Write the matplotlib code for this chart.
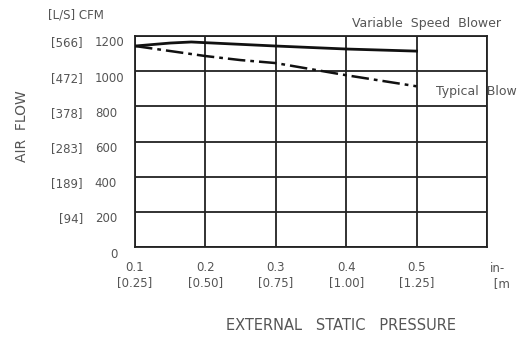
import matplotlib.pyplot as plt
import matplotlib.transforms as mtransforms

# data
pressure = [0.1, 0.15, 0.18, 0.2, 0.3, 0.4, 0.5]
variable_speed = [1143, 1160, 1166, 1162, 1143, 1126, 1114]
typical_p = [0.1, 0.2, 0.25, 0.3, 0.4, 0.5]
typical = [1143, 1086, 1063, 1046, 977, 914]

cfm_ticks = [0, 200, 400, 600, 800, 1000, 1200]
ls_labels = ["", "[94]", "[189]", "[283]", "[378]", "[472]", "[566]"]
x_ticks = [0.1, 0.2, 0.3, 0.4, 0.5]
x_labels = ["0.1\n[0.25]", "0.2\n[0.50]", "0.3\n[0.75]", "0.4\n[1.00]", "0.5\n[1.25]"]

txt = "#555555"
fs = 8.5

fig = plt.figure(figsize=(5.19, 3.37), dpi=100)
fig.patch.set_facecolor("white")

ax = fig.add_axes([135 / 519, 1 - 247 / 337, 352 / 519, 211 / 337])
ax.set_xlim(0.1, 0.6)
ax.set_ylim(0, 1200)

ax.plot(pressure, variable_speed, color="#111111", lw=2.0, zorder=3)
ax.plot(typical_p, typical, color="#111111", lw=1.8, ls=(0, (7, 2, 1.5, 2)), zorder=3)

ax.set_xticks(x_ticks + [0.6])
ax.set_yticks(cfm_ticks)
ax.grid(True, color="#222222", lw=1.3)
for s in ax.spines.values():
    s.set_color("#222222")
    s.set_linewidth(1.3)
ax.tick_params(length=0)
ax.set_xticklabels([])
ax.set_yticklabels([])

# y labels (two columns), slightly below their grid lines
trans = mtransforms.blended_transform_factory(ax.transAxes, ax.transData)
off = mtransforms.ScaledTranslation(0, -7 / 100, fig.dpi_scale_trans)
for v, ls in zip(cfm_ticks, ls_labels):
    if v == 0:
        ax.text(-0.06, v, "0", transform=trans + off, ha="center", va="center",
                fontsize=fs, color=txt)
    else:
        ax.text(-0.114, v, str(v), transform=trans + off, ha="left", va="center",
                fontsize=fs, color=txt)
        ax.text(-0.148, v, ls, transform=trans + off, ha="right", va="center",
                fontsize=fs, color=txt)

# x labels
transx = mtransforms.blended_transform_factory(ax.transData, ax.transAxes)
for v, lab in zip(x_ticks, x_labels):
    ax.text(v, -0.065, lab, transform=transx, ha="center", va="top",
            fontsize=fs, color=txt, linespacing=1.2)
fig.text(490 / 519, 1 - 262 / 337, "in-\n [m", ha="left", va="top",
         fontsize=fs, color=txt, linespacing=1.2)

fig.text(48 / 519, 1 - 15 / 337, "[L/S] CFM", ha="left", va="center",
         fontsize=fs, color=txt)
fig.text(22 / 519, 1 - 126 / 337, "AIR  FLOW", rotation=90, ha="center",
         va="center", fontsize=10, color=txt)
fig.text(341 / 519, 1 - 325 / 337, "EXTERNAL   STATIC   PRESSURE", ha="center",
         va="center", fontsize=10.5, color=txt)
fig.text(352 / 519, 1 - 24 / 337, "Variable  Speed  Blower", ha="left",
         va="center", fontsize=9, color=txt)
fig.text(436 / 519, 1 - 91 / 337, "Typical  Blow", ha="left",
         va="center", fontsize=9, color=txt)

fig.savefig("out.png", dpi=100)
